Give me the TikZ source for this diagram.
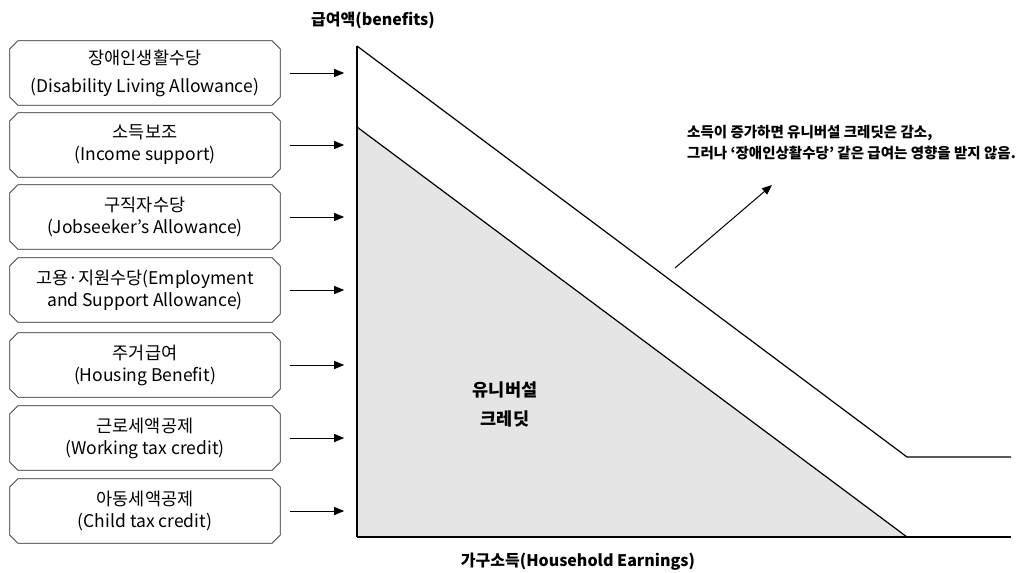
\documentclass[tikz,border=0pt]{standalone}
\usepackage{fontspec}
\setmainfont{Noto Sans CJK KR}
\usetikzlibrary{arrows.meta}
\begin{document}
\begin{tikzpicture}[x=1pt,y=-1pt,
  benefit/.style={draw=none, minimum width=270pt, minimum height=64pt, inner sep=0pt, align=center, font=\fontsize{17.5}{22}\selectfont},
  chamfer/.style={draw=black!85, line width=0.8pt},
  feed/.style={-{Triangle[length=10pt,width=8pt]}, line width=1pt},
  axis/.style={line width=1.2pt},
  lbl/.style={font=\bfseries\fontsize{16}{18}\selectfont}]
\useasboundingbox (0,0) rectangle (1031,573);
% graph
\coordinate (top) at (357,46);
\coordinate (kink) at (907,457);
\coordinate (upend) at (1011,457);
\coordinate (ucTop) at (357,127);
\coordinate (ucEnd) at (907,537);
\coordinate (origin) at (357,537);
\coordinate (xend) at (1011,537);
\fill[gray!20] (ucTop) -- (ucEnd) -- (origin) -- cycle;
\draw[axis] (top) -- (kink) -- (upend);
\draw[axis] (top) -- (origin);
\draw[axis] (ucTop) -- (ucEnd);
\draw[line width=2pt] (origin) -- (xend);
% boxes
\node[benefit, font=\fontsize{17.5}{28}\selectfont] (b1) at (145,73) {장애인생활수당\\(Disability Living Allowance)};
\node[benefit] (b2) at (145,145) {소득보조\\(Income support)};
\node[benefit] (b3) at (145,217) {구직자수당\\(Jobseeker’s Allowance)};
\node[benefit] (b4) at (145,290) {고용·지원수당(Employment\\and Support Allowance)};
\node[benefit] (b5) at (145,365) {주거급여\\(Housing Benefit)};
\node[benefit] (b6) at (145,438) {근로세액공제\\(Working tax credit)};
\node[benefit] (b7) at (145,511) {아동세액공제\\(Child tax credit)};
\foreach \b in {b1,b2,b3,b4,b5,b6,b7}{
  \draw[chamfer] ([xshift=8pt]\b.north west) -- ([xshift=-8pt]\b.north east) -- ([yshift=-8pt]\b.north east)
    -- ([yshift=8pt]\b.south east) -- ([xshift=-8pt]\b.south east) -- ([xshift=8pt]\b.south west)
    -- ([yshift=8pt]\b.south west) -- ([yshift=-8pt]\b.north west) -- cycle;
  \draw[feed] ([xshift=10pt]\b.east) -- ([xshift=64pt]\b.east);
}
% labels
\node[lbl] (ylab) at (373,20) {급여액(benefits)};
\node[lbl] (xlab) at (578,562) {가구소득(Household Earnings)};
\node[font=\bfseries\fontsize{17.5}{29}\selectfont, align=center] (uc) at (505,404.5) {유니버설\\크레딧};
\node[font=\bfseries\fontsize{14.5}{21}\selectfont, align=left, anchor=west, inner sep=0pt] (note) at (687,142.5)
  {소득이 증가하면 유니버설 크레딧은 감소,\\그러나 ‘장애인상활수당’ 같은 급여는 영향을 받지 않음.};
\coordinate (arrS) at (675,268);
\coordinate (arrE) at (772,185);
\draw[feed] (arrS) -- (arrE);
\end{tikzpicture}
\end{document}
